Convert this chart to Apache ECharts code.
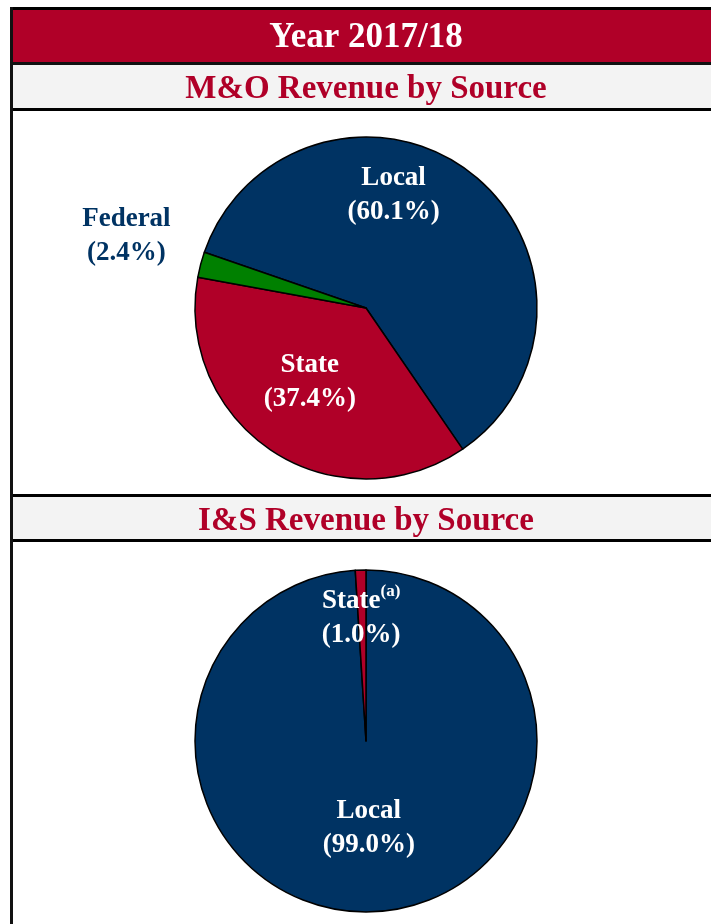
<!DOCTYPE html>
<html>
<head>
<meta charset="utf-8">
<script src="https://cdn.jsdelivr.net/npm/echarts@6/dist/echarts.min.js"></script>
<style>
  html, body { margin: 0; padding: 0; background: #fff; }
  #main { width: 711px; height: 924px; }
</style>
</head>
<body>
<div id="main"></div>
<script>
// 数据
const yearTitle = 'Year 2017/18'
const moTitle = 'M&O Revenue by Source'
const isTitle = 'I&S Revenue by Source'
const moNames = ['Local', 'State', 'Federal']
const moValues = [60.1, 37.4, 2.4]
const isNames = ['Local', 'State']
const isValues = [99.0, 1.0]

const NAVY = '#003363'
const RED = '#B00028'
const GREEN = '#008000'
const FONT = '"Liberation Serif", "DejaVu Serif", serif'

const cs = echarts.init(document.getElementById('main'))

// 标签的位移 (相对 inside 默认位置)
const moShift = [[-26, -43], [-8, 0], [-154, -50]]
const isShift = [[0, -1], [-2, -35]]

function pieLabel(color) {
    return {
        show: true,
        position: 'inside',
        color: color,
        fontFamily: FONT,
        fontWeight: 'bold',
        fontSize: 27,
        lineHeight: 34,
        rich: {
            sup: { fontFamily: FONT, fontWeight: 'bold', fontSize: 17, color: color, verticalAlign: 'top', lineHeight: 22 }
        }
    }
}

const moData = moNames.map(function (n, i) {
    const colors = [NAVY, RED, GREEN]
    const d = {
        name: n,
        value: moValues[i],
        itemStyle: { color: colors[i] },
        label: pieLabel(i === 2 ? NAVY : '#fff')
    }
    d.label.formatter = n + '\n(' + moValues[i].toFixed(1) + '%)'
    return d
})

const isData = isNames.map(function (n, i) {
    const colors = [NAVY, RED]
    const d = {
        name: n,
        value: isValues[i],
        itemStyle: { color: colors[i] },
        label: pieLabel('#fff')
    }
    if (n === 'State') {
        d.label.formatter = n + '{sup|(a)}\n(' + isValues[i].toFixed(1) + '%)'
    } else {
        d.label.formatter = n + '\n(' + isValues[i].toFixed(1) + '%)'
    }
    return d
})

// 表头框
const bands = [
    { type: 'rect', shape: { x: 10, y: 7, width: 702, height: 3 }, style: { fill: '#000' } },
    { type: 'rect', shape: { x: 12, y: 10, width: 700, height: 52 }, style: { fill: RED } },
    { type: 'rect', shape: { x: 10, y: 62, width: 702, height: 3 }, style: { fill: '#111' } },
    { type: 'rect', shape: { x: 12, y: 65, width: 700, height: 43 }, style: { fill: '#F3F3F3' } },
    { type: 'rect', shape: { x: 10, y: 108, width: 702, height: 3 }, style: { fill: '#000' } },
    { type: 'rect', shape: { x: 10, y: 494, width: 702, height: 3 }, style: { fill: '#000' } },
    { type: 'rect', shape: { x: 12, y: 497, width: 700, height: 42 }, style: { fill: '#F3F3F3' } },
    { type: 'rect', shape: { x: 10, y: 539, width: 702, height: 3 }, style: { fill: '#000' } },
    { type: 'rect', shape: { x: 10, y: 7, width: 3, height: 917 }, style: { fill: '#111' } },
    {
        type: 'text', x: 366, y: 38,
        style: { text: yearTitle, fill: '#fff', font: 'bold 35px ' + FONT, align: 'center', verticalAlign: 'middle' }
    },
    {
        type: 'text', x: 366, y: 89,
        style: { text: moTitle, fill: RED, font: 'bold 33px ' + FONT, align: 'center', verticalAlign: 'middle' }
    },
    {
        type: 'text', x: 366, y: 521,
        style: { text: isTitle, fill: RED, font: 'bold 33px ' + FONT, align: 'center', verticalAlign: 'middle' }
    }
]

const option = {
    animation: false,
    graphic: { elements: bands },
    series: [
        {
            type: 'pie',
            center: [366, 308],
            radius: 171,
            startAngle: 161,
            clockwise: true,
            avoidLabelOverlap: false,
            labelLine: { show: false },
            itemStyle: { borderColor: '#000', borderWidth: 1.5 },
            emphasis: { disabled: true },
            data: moData,
            labelLayout: function (p) {
                const s = moShift[p.dataIndex]
                return { dx: s[0], dy: s[1] }
            }
        },
        {
            type: 'pie',
            center: [366, 741],
            radius: 171,
            startAngle: 90,
            clockwise: true,
            avoidLabelOverlap: false,
            labelLine: { show: false },
            itemStyle: { borderColor: '#000', borderWidth: 1.5 },
            emphasis: { disabled: true },
            data: isData,
            labelLayout: function (p) {
                const s = isShift[p.dataIndex]
                return { dx: s[0], dy: s[1] }
            }
        }
    ]
}
cs.setOption(option)
</script>
</body>
</html>
